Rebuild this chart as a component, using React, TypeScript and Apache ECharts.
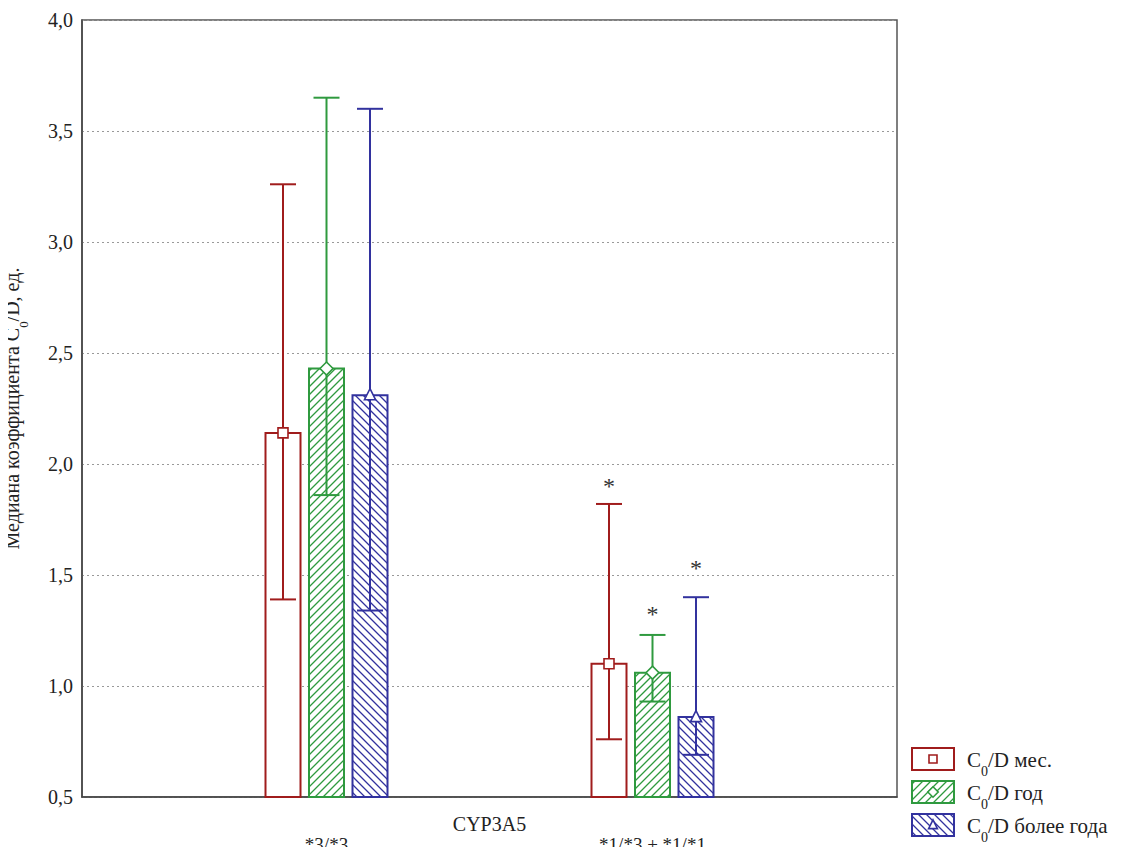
import React, { useEffect, useRef } from "react";
import * as echarts from "echarts";

// ---- data ----
const categories = ["*3/*3", "*1/*3 + *1/*1"];
const groupX = [0.75, 1.75];
const seriesNames = ["C0/D мес.", "C0/D год", "C0/D более года"];
const medians = [
  [2.14, 1.1],
  [2.43, 1.06],
  [2.31, 0.86],
];
const lows = [
  [1.39, 0.76],
  [1.86, 0.93],
  [1.34, 0.69],
];
const highs = [
  [3.26, 1.82],
  [3.65, 1.23],
  [3.6, 1.4],
];
const stars = [
  [null, 1.93],
  [null, 1.35],
  [null, 1.56],
];
const yTicks = { min: 0.5, max: 4.0, interval: 0.5 };

const colors = ["#a01c1c", "#2f9a3f", "#32329e"];
const hatch = ["none", "fwd", "back"];
const markers = ["square", "diamond", "triangle"];
const FONT = "Liberation Serif, DejaVu Serif, serif";

function hatchLines(x0: number, y0: number, x1: number, y1: number, step: number, dir: string, color: string, lw: number) {
  const out: any[] = [];
  if (dir === "fwd") {
    const cStart = Math.ceil((x0 + y0) / step) * step;
    for (let c = cStart; c <= x1 + y1; c += step) {
      const xa = Math.max(x0, c - y1);
      const xb = Math.min(x1, c - y0);
      if (xb - xa < 0.5) continue;
      out.push({ type: "line", shape: { x1: xa, y1: c - xa, x2: xb, y2: c - xb }, style: { stroke: color, lineWidth: lw } });
    }
  } else if (dir === "back") {
    const cStart = Math.ceil((y0 - x1) / step) * step;
    for (let c = cStart; c <= y1 - x0; c += step) {
      const xa = Math.max(x0, y0 - c);
      const xb = Math.min(x1, y1 - c);
      if (xb - xa < 0.5) continue;
      out.push({ type: "line", shape: { x1: xa, y1: xa + c, x2: xb, y2: xb + c }, style: { stroke: color, lineWidth: lw } });
    }
  }
  return out;
}

function markerShape(kind: string, cx: number, cy: number, color: string, r: number) {
  if (kind === "square") {
    return { type: "rect", shape: { x: cx - r, y: cy - r, width: 2 * r, height: 2 * r }, style: { fill: "#fff", stroke: color, lineWidth: 1.6 } };
  }
  if (kind === "diamond") {
    const d = r * 1.3;
    return { type: "polygon", shape: { points: [[cx, cy - d], [cx + d, cy], [cx, cy + d], [cx - d, cy]] }, style: { fill: "#fff", stroke: color, lineWidth: 1.6 } };
  }
  const t = r * 1.3;
  return { type: "polygon", shape: { points: [[cx, cy - t], [cx + t * 0.85, cy + t * 0.7], [cx - t * 0.85, cy + t * 0.7]] }, style: { fill: "#fff", stroke: color, lineWidth: 1.6 } };
}

const offsetsPx = [-43.5, 0, 43.5];
const barW = 35;
const capW = 26;

function makeSeries(si: number) {
  const data = groupX.map((gx, gi) => [gx, medians[si][gi], lows[si][gi], highs[si][gi], stars[si][gi]]);
  return {
    type: "custom",
    name: seriesNames[si],
    data,
    clip: false,
    renderItem: (params: any, api: any) => {
      const gx = api.value(0);
      const med = api.value(1);
      const lo = api.value(2);
      const hi = api.value(3);
      const rawStar = data[params.dataIndex][4];
      const base = api.coord([gx, yTicks.min]);
      const cx = base[0] + offsetsPx[si];
      const yb = base[1];
      const ym = api.coord([gx, med])[1];
      const yl = api.coord([gx, lo])[1];
      const yh = api.coord([gx, hi])[1];
      const color = colors[si];
      const x0 = cx - barW / 2;
      const x1 = cx + barW / 2;
      const children: any[] = [];
      children.push({ type: "rect", shape: { x: x0, y: ym, width: barW, height: yb - ym }, style: { fill: "#fff", stroke: null } });
      children.push(...hatchLines(x0, ym, x1, yb, 8, hatch[si], color, 1.3));
      children.push({ type: "rect", shape: { x: x0, y: ym, width: barW, height: yb - ym }, style: { fill: "none", stroke: color, lineWidth: 2 } });
      children.push({ type: "line", shape: { x1: cx, y1: yl, x2: cx, y2: yh }, style: { stroke: color, lineWidth: 2 } });
      children.push({ type: "line", shape: { x1: cx - capW / 2, y1: yl, x2: cx + capW / 2, y2: yl }, style: { stroke: color, lineWidth: 2 } });
      children.push({ type: "line", shape: { x1: cx - capW / 2, y1: yh, x2: cx + capW / 2, y2: yh }, style: { stroke: color, lineWidth: 2 } });
      children.push(markerShape(markers[si], cx, ym, color, 5));
      if (rawStar != null) {
        const ys = api.coord([gx, rawStar])[1];
        children.push({
          type: "text",
          style: { text: "*", x: cx, y: ys + 6, align: "center", verticalAlign: "middle", fontSize: 24, fontFamily: FONT, fill: "#333" },
        });
      }
      return { type: "group", children };
    },
  };
}

function legendGraphic() {
  const els: any[] = [];
  const tops = [748, 781, 814];
  const bx = 912;
  const bw = 42;
  const bh = 22;
  const labels = [
    "{a|C}{s|0}{a|/D мес.}",
    "{a|C}{s|0}{a|/D год}",
    "{a|C}{s|0}{a|/D более года}",
  ];
  for (let i = 0; i < 3; i++) {
    const y0 = tops[i];
    const color = colors[i];
    els.push({ type: "rect", shape: { x: bx, y: y0, width: bw, height: bh }, style: { fill: "#fff", stroke: null } });
    els.push(...hatchLines(bx, y0, bx + bw, y0 + bh, 8, hatch[i], color, 1.2));
    els.push({ type: "rect", shape: { x: bx, y: y0, width: bw, height: bh }, style: { fill: "none", stroke: color, lineWidth: 2 } });
    els.push(markerShape(markers[i], bx + bw / 2, y0 + bh / 2, color, 4));
    els.push({
      type: "text",
      x: 967,
      y: y0 + bh / 2 + 1,
      style: {
        text: labels[i],
        verticalAlign: "middle",
        rich: {
          a: { fontSize: 21, fontFamily: FONT, fill: "#222", lineHeight: 24, verticalAlign: "middle" },
          s: { fontSize: 14, fontFamily: FONT, fill: "#222", lineHeight: 14, verticalAlign: "bottom", padding: [0, 0, -6, 0] },
        },
      },
    });
  }
  return els;
}

export default function App() {
  const ref = useRef<HTMLDivElement>(null);
  useEffect(() => {
    if (!ref.current) return;
    const chart = echarts.init(ref.current, undefined, { renderer: "svg" });
    const option: any = {
      animation: false,
      backgroundColor: "#fff",
      textStyle: { fontFamily: FONT },
      grid: {
        left: 82, top: 20, right: 233, bottom: 58,
        containLabel: false, outerBoundsMode: "none",
        show: true, borderColor: "#555", borderWidth: 1.5, backgroundColor: "transparent",
      },
      xAxis: {
        type: "value",
        min: 0,
        max: 2.5,
        name: "CYP3A5",
        nameLocation: "middle",
        nameGap: 17,
        nameMoveOverlap: false,
        nameTextStyle: { fontSize: 20, fontFamily: FONT, color: "#222", verticalAlign: "top" },
        axisLine: { show: true, lineStyle: { color: "#444", width: 1.5 } },
        axisTick: { show: false },
        splitLine: { show: false },
        axisLabel: {
          customValues: groupX,
          margin: 38,
          fontSize: 19,
          lineHeight: 19,
          fontFamily: FONT,
          color: "#222",
          formatter: (v: number) => {
            const i = groupX.findIndex((g) => Math.abs(g - v) < 1e-6);
            return i >= 0 ? categories[i] : "";
          },
        },
      },
      yAxis: {
        type: "value",
        min: yTicks.min,
        max: yTicks.max,
        interval: yTicks.interval,
        name: "{a|Медиана коэффициента C}{s|0}{a|/D, ед.}",
        nameLocation: "middle",
        nameGap: 58,
        nameMoveOverlap: false,
        nameTextStyle: {
          fontFamily: FONT,
          rich: {
            a: { fontSize: 20, fontFamily: FONT, color: "#222", lineHeight: 24, verticalAlign: "middle" },
            s: { fontSize: 13, fontFamily: FONT, color: "#222", lineHeight: 13, verticalAlign: "bottom", padding: [0, 0, -6, 0] },
          },
        },
        axisLine: { show: true, lineStyle: { color: "#444", width: 1.5 } },
        axisTick: { show: false },
        splitLine: { show: true, lineStyle: { color: "#999", type: [2, 3], width: 1 } },
        axisLabel: {
          margin: 9,
          fontSize: 20,
          fontFamily: FONT,
          color: "#222",
          formatter: (v: number) => v.toFixed(1).replace(".", ","),
        },
      },
      series: [makeSeries(0), makeSeries(1), makeSeries(2)],
      graphic: legendGraphic(),
    };
    chart.setOption(option);
    return () => chart.dispose();
  }, []);
  return <div ref={ref} style={{ width: 1130, height: 855, margin: -8 }} />;
}
